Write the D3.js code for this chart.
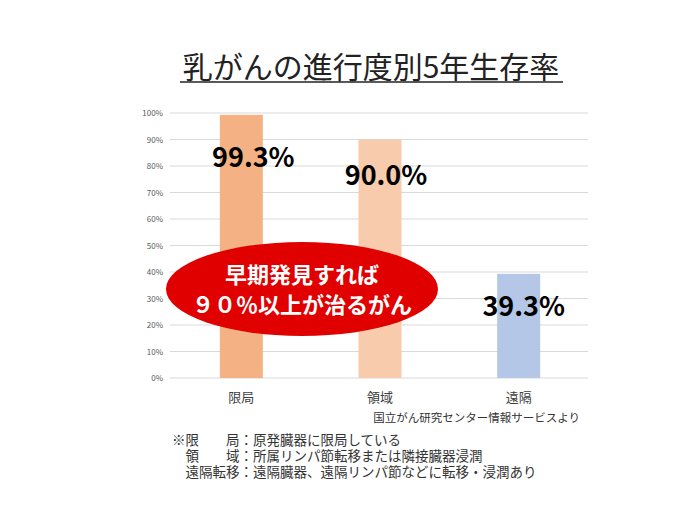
<!DOCTYPE html><html><head><meta charset="utf-8">
<script src="https://cdn.jsdelivr.net/npm/d3@7"></script>
<style>body{margin:0;background:#fff}text{font-family:"Noto Sans CJK JP",sans-serif}</style></head><body>
<svg id="c" width="690" height="518"></svg>
<script>
const categories=["限局","領域","遠隔"];
const values=[99.3,90.0,39.3];
const labels=["99.3%","90.0%","39.3%"];
const colors=["#f4b183","#f8cbad","#b4c7e7"];
const ticks=[0,10,20,30,40,50,60,70,80,90,100];
const notes=["※限　　局：原発臓器に限局している","　領　　域：所属リンパ節転移または隣接臓器浸潤","　遠隔転移：遠隔臓器、遠隔リンパ節などに転移・浸潤あり"];
const svg=d3.select("#c");
const x=d3.scaleBand().domain(categories).range([172,588]).paddingInner(0.69).paddingOuter(0.345);
const y=d3.scaleLinear().domain([0,100]).range([378,113]);
svg.append("g").selectAll("line").data(ticks).join("line").attr("x1",170).attr("x2",588)
 .attr("y1",d=>y(d)).attr("y2",d=>y(d)).attr("stroke","#d9d9d9");
svg.append("g").selectAll("text").data(ticks).join("text").attr("x",163).attr("y",d=>y(d)+3)
 .attr("text-anchor","end").attr("font-size",8).attr("fill","#595959").text(d=>d+"%");
svg.append("g").selectAll("rect").data(values).join("rect").attr("x",(d,i)=>x(categories[i]))
 .attr("width",x.bandwidth()).attr("y",d=>y(d)).attr("height",d=>y(0)-y(d)).attr("fill",(d,i)=>colors[i]);
svg.append("g").selectAll("text").data(categories).join("text").attr("x",d=>x(d)+x.bandwidth()/2).attr("y",402)
 .attr("text-anchor","middle").attr("font-size",13).attr("fill","#404040").text(d=>d);
const lblOff=[12,6,5], lblY=[157,175,306];
svg.append("g").selectAll("text").data(labels).join("text").attr("x",(d,i)=>x(categories[i])+x.bandwidth()/2+lblOff[i])
 .attr("y",(d,i)=>lblY[i]+10).attr("text-anchor","middle").attr("font-size",27).attr("font-weight","bold")
 .attr("font-family","'Open Sans',sans-serif").text(d=>d);
svg.append("ellipse").attr("cx",302).attr("cy",289).attr("rx",136).attr("ry",47).attr("fill","#e00000");
svg.append("text").attr("x",302).attr("y",283).attr("text-anchor","middle").attr("fill","#fff").attr("font-size",22).attr("font-weight","bold").text("早期発見すれば");
svg.append("text").attr("x",302).attr("y",313).attr("text-anchor","middle").attr("fill","#fff").attr("font-size",22).attr("font-weight","bold").text("９０％以上が治るがん");
svg.append("text").attr("x",371).attr("y",78).attr("text-anchor","middle").attr("font-size",30).attr("fill","#222").text("乳がんの進行度別5年生存率");
svg.append("line").attr("x1",180).attr("x2",563).attr("y1",82).attr("y2",82).attr("stroke","#222").attr("stroke-width",1.5);
svg.append("text").attr("x",580).attr("y",422).attr("text-anchor","end").attr("font-size",11.5).attr("fill","#333").text("国立がん研究センター情報サービスより");
svg.append("g").selectAll("text").data(notes).join("text").attr("x",172).attr("y",(d,i)=>445+i*16)
 .attr("font-size",13.5).attr("fill","#333").style("white-space","pre").text(d=>d);
</script></body></html>
